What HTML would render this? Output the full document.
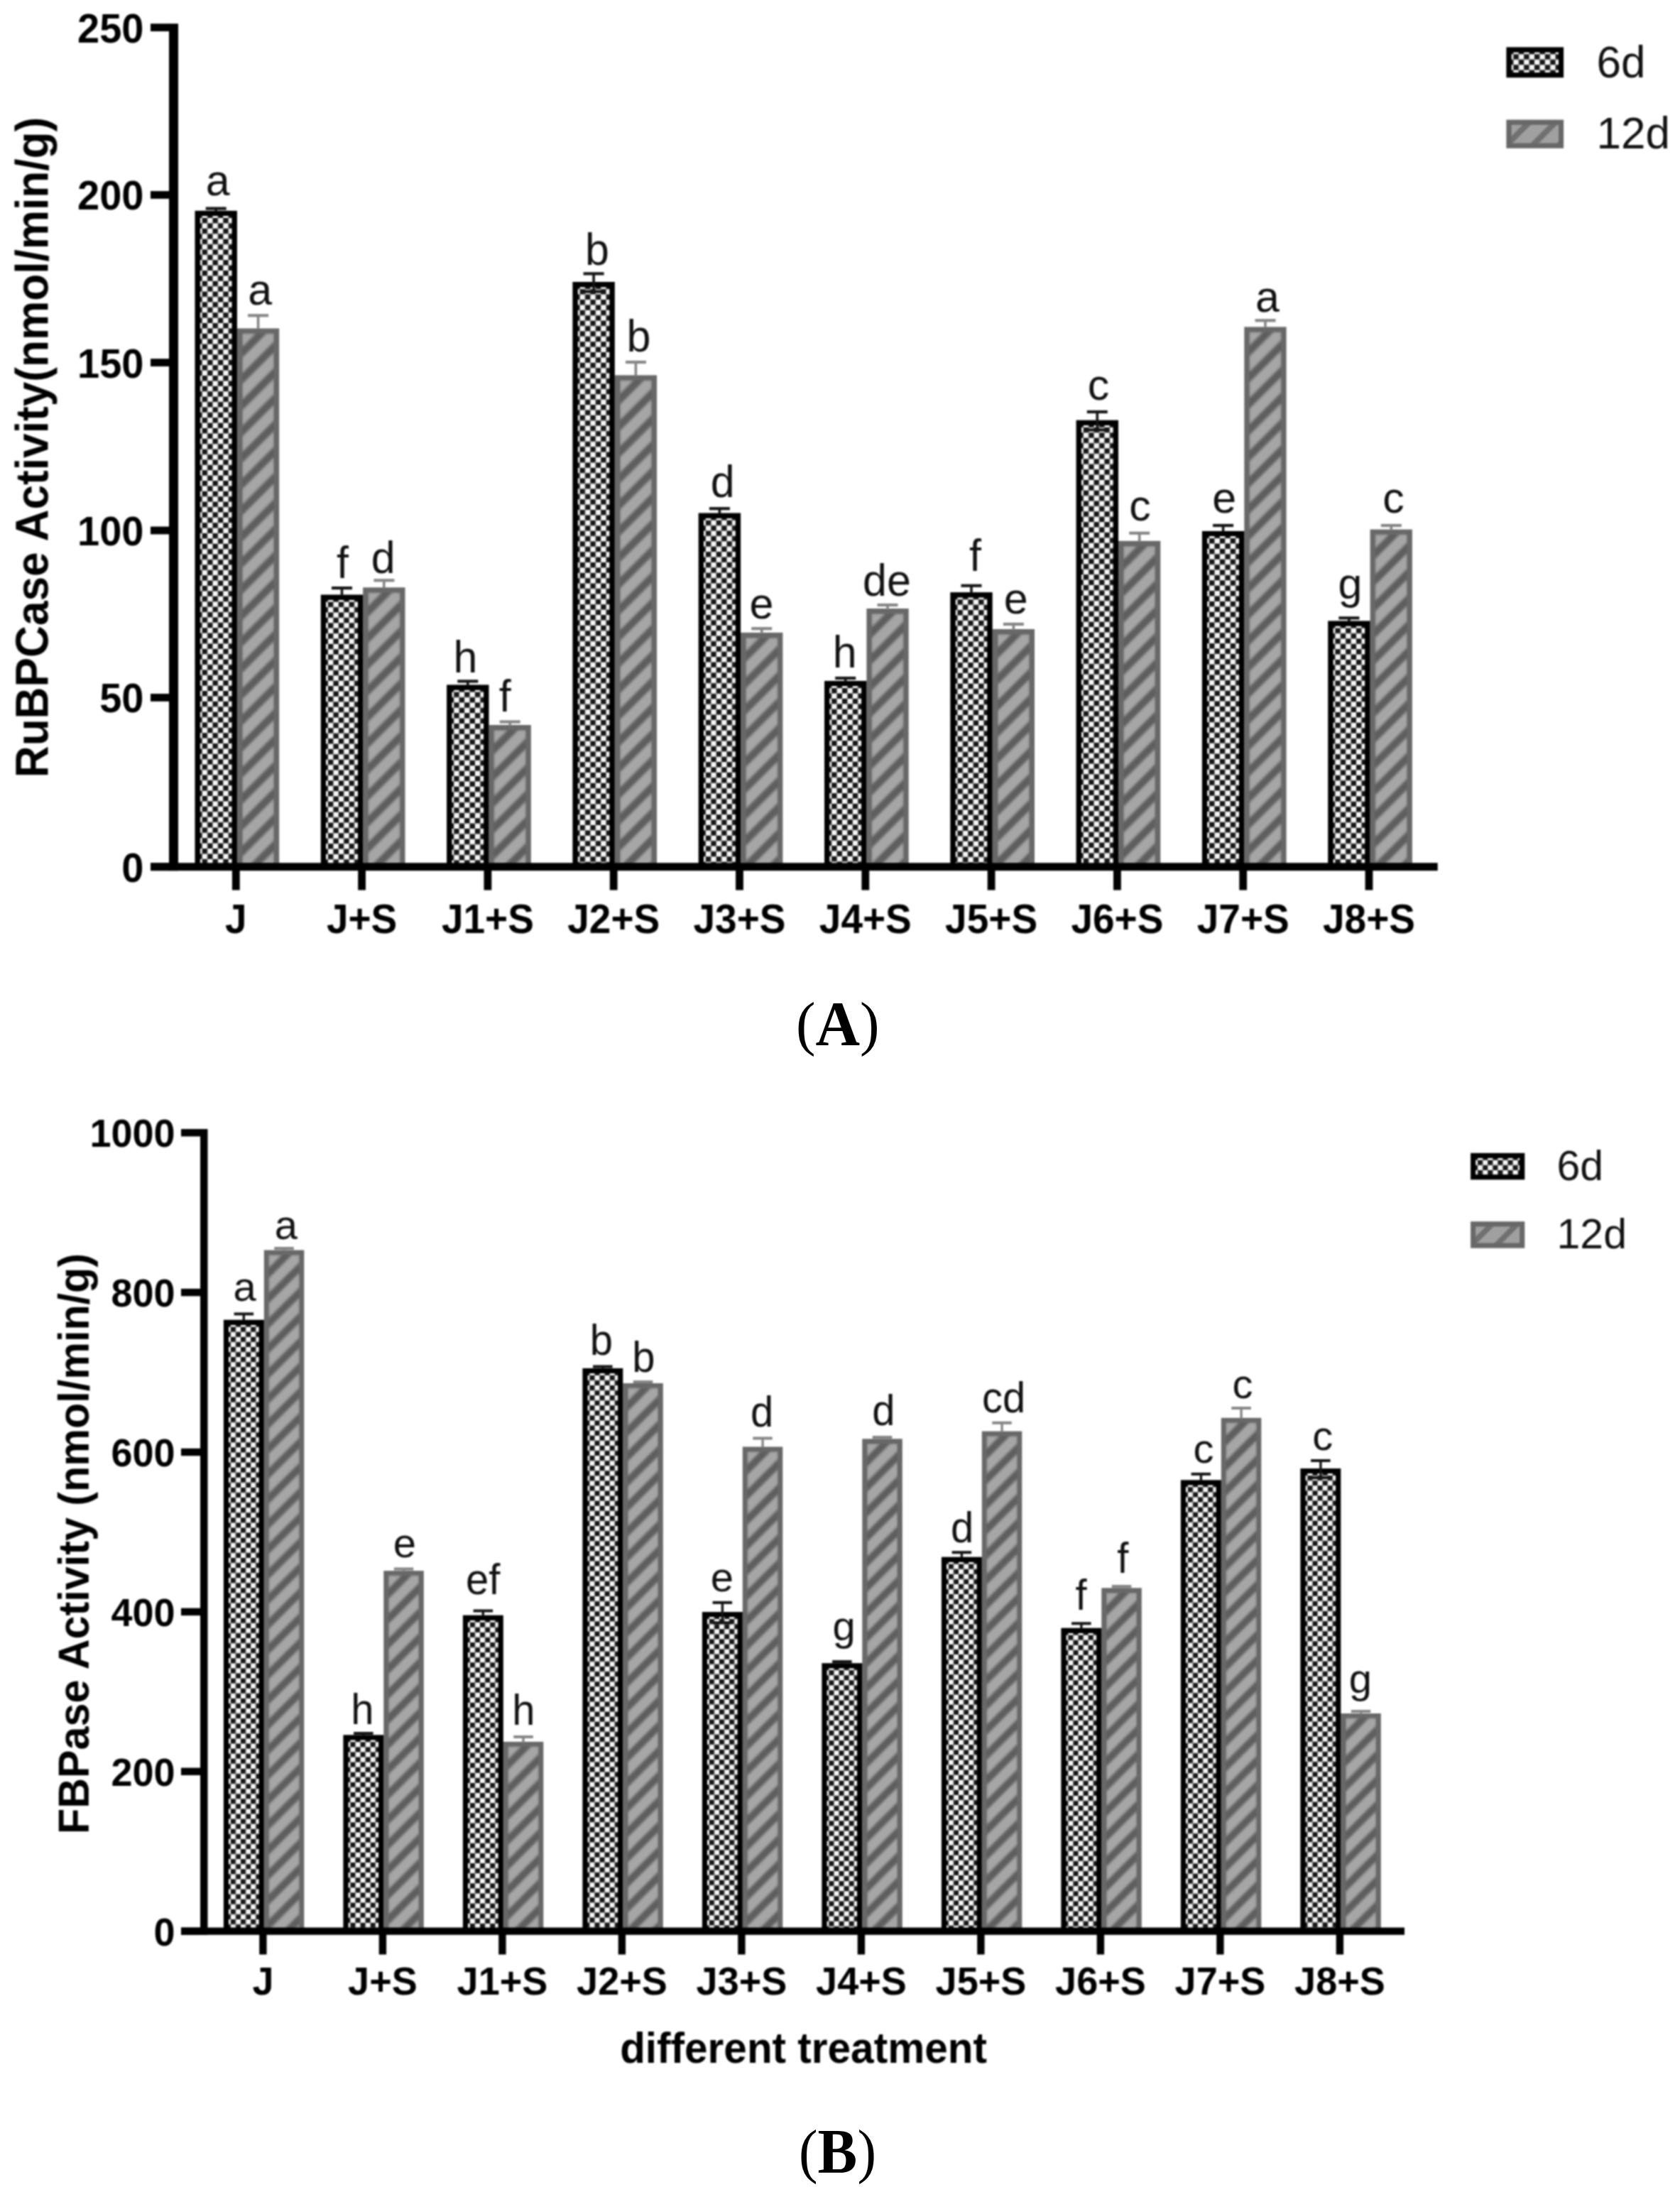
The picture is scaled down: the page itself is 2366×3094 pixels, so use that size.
<!DOCTYPE html>
<html lang="en"><head><meta charset="utf-8"><title>Figure</title>
<style>
html,body{margin:0;padding:0;background:#fff;}
body{width:2366px;height:3094px;overflow:hidden;}
svg{display:block;}
</style></head><body>
<svg width="2366" height="3094" viewBox="0 0 2366 3094">
<defs>
<pattern id="cA" width="14.8" height="14.8" patternUnits="userSpaceOnUse" x="3.0" y="3.0"><rect width="14.8" height="14.8" fill="#f6f6f6"/><rect width="7.4" height="7.4" fill="#161616"/><rect x="7.4" y="7.4" width="7.4" height="7.4" fill="#161616"/></pattern>
<pattern id="cB" width="14.14" height="14.14" patternUnits="userSpaceOnUse" x="3.0" y="3.0"><rect width="14.14" height="14.14" fill="#f6f6f6"/><rect width="7.07" height="7.07" fill="#161616"/><rect x="7.07" y="7.07" width="7.07" height="7.07" fill="#161616"/></pattern>
<pattern id="hA" width="36.97" height="36.97" patternUnits="userSpaceOnUse"><rect width="36.97" height="36.97" fill="#a6a6a6"/><polygon points="0,-17.97 36.97,-54.94 36.97,-39.94 0,-2.97" fill="#5e5e5e"/><polygon points="0,19.00 36.97,-17.97 36.97,-2.97 0,34.00" fill="#5e5e5e"/><polygon points="0,55.97 36.97,19.00 36.97,34.00 0,70.97" fill="#5e5e5e"/><polygon points="0,92.94 36.97,55.97 36.97,70.97 0,107.94" fill="#5e5e5e"/></pattern>
<pattern id="hB" width="35.3" height="35.3" patternUnits="userSpaceOnUse"><rect width="35.3" height="35.3" fill="#a6a6a6"/><polygon points="0,-17.25 35.3,-52.55 35.3,-38.05 0,-2.75" fill="#5e5e5e"/><polygon points="0,18.05 35.3,-17.25 35.3,-2.75 0,32.55" fill="#5e5e5e"/><polygon points="0,53.35 35.3,18.05 35.3,32.55 0,67.85" fill="#5e5e5e"/><polygon points="0,88.65 35.3,53.35 35.3,67.85 0,103.15" fill="#5e5e5e"/></pattern>
<pattern id="hAL" width="36.97" height="36.97" patternUnits="userSpaceOnUse"><rect width="36.97" height="36.97" fill="#a0a0a0"/><polygon points="0,-20.72 36.97,-57.69 36.97,-46.19 0,-9.22" fill="#707070"/><polygon points="0,16.25 36.97,-20.72 36.97,-9.22 0,27.75" fill="#707070"/><polygon points="0,53.22 36.97,16.25 36.97,27.75 0,64.72" fill="#707070"/><polygon points="0,90.19 36.97,53.22 36.97,64.72 0,101.69" fill="#707070"/></pattern>
<pattern id="hBL" width="35.3" height="35.3" patternUnits="userSpaceOnUse"><rect width="35.3" height="35.3" fill="#a0a0a0"/><polygon points="0,-20.90 35.3,-56.20 35.3,-45.00 0,-9.70" fill="#707070"/><polygon points="0,14.40 35.3,-20.90 35.3,-9.70 0,25.60" fill="#707070"/><polygon points="0,49.70 35.3,14.40 35.3,25.60 0,60.90" fill="#707070"/><polygon points="0,85.00 35.3,49.70 35.3,60.90 0,96.20" fill="#707070"/></pattern>
<filter id="softS" x="-2%" y="-2%" width="104%" height="104%" filterUnits="objectBoundingBox" color-interpolation-filters="sRGB"><feGaussianBlur stdDeviation="0.9"/></filter>
<filter id="softH" x="0" y="0" width="100%" height="100%" filterUnits="objectBoundingBox" color-interpolation-filters="sRGB"><feGaussianBlur stdDeviation="1.6"/></filter>
<filter id="softT" x="-2%" y="-2%" width="104%" height="104%" filterUnits="objectBoundingBox" color-interpolation-filters="sRGB"><feGaussianBlur stdDeviation="1.0"/></filter>
</defs>
<rect width="2366" height="3094" fill="#fff"/>
<g id="chartA" filter="url(#softS)">
<rect x="333.9" y="462.5" width="59.3" height="754.7" fill="#686868" />
<svg x="341.2" y="469.8" width="44.7" height="747.4" filter="url(#softH)"><rect width="100%" height="100%" fill="url(#hA)"/></svg>
<rect x="274.5" y="296.8" width="59.4" height="920.4" fill="#000" />
<svg x="281.7" y="304.0" width="45.0" height="913.2"><rect width="100%" height="100%" fill="url(#cA)"/></svg>
<rect x="289.7" y="291.5" width="29.0" height="4.2" fill="#141414" />
<rect x="302.4" y="293.6" width="3.6" height="4.2" fill="#141414" />
<rect x="349.1" y="442.2" width="29.0" height="4.2" fill="#858585" />
<rect x="361.8" y="444.3" width="3.6" height="19.2" fill="#858585" />
<rect x="511.2" y="827.3" width="59.3" height="389.9" fill="#686868" />
<svg x="518.5" y="834.6" width="44.7" height="382.6" filter="url(#softH)"><rect width="100%" height="100%" fill="url(#hA)"/></svg>
<rect x="451.8" y="837.5" width="59.4" height="379.7" fill="#000" />
<svg x="459.0" y="844.7" width="45.0" height="372.5"><rect width="100%" height="100%" fill="url(#cA)"/></svg>
<rect x="467.0" y="826.0" width="29.0" height="4.2" fill="#141414" />
<rect x="479.7" y="828.1" width="3.6" height="10.4" fill="#141414" />
<rect x="526.4" y="815.2" width="29.0" height="4.2" fill="#858585" />
<rect x="539.0" y="817.3" width="3.6" height="11.0" fill="#858585" />
<rect x="688.5" y="1021.0" width="59.3" height="196.2" fill="#686868" />
<svg x="695.8" y="1028.3" width="44.7" height="188.9" filter="url(#softH)"><rect width="100%" height="100%" fill="url(#hA)"/></svg>
<rect x="629.1" y="964.4" width="59.4" height="252.8" fill="#000" />
<svg x="636.3" y="971.6" width="45.0" height="245.6"><rect width="100%" height="100%" fill="url(#cA)"/></svg>
<rect x="644.3" y="957.3" width="29.0" height="4.2" fill="#141414" />
<rect x="657.0" y="959.4" width="3.6" height="6.0" fill="#141414" />
<rect x="703.7" y="1014.4" width="29.0" height="4.2" fill="#858585" />
<rect x="716.4" y="1016.5" width="3.6" height="5.5" fill="#858585" />
<rect x="865.8" y="528.4" width="59.3" height="688.8" fill="#686868" />
<svg x="873.1" y="535.7" width="44.7" height="681.5" filter="url(#softH)"><rect width="100%" height="100%" fill="url(#hA)"/></svg>
<rect x="806.4" y="397.0" width="59.4" height="820.2" fill="#000" />
<svg x="813.6" y="404.2" width="45.0" height="813.0"><rect width="100%" height="100%" fill="url(#cA)"/></svg>
<rect x="821.6" y="383.3" width="29.0" height="4.2" fill="#141414" />
<rect x="834.3" y="385.4" width="3.6" height="12.6" fill="#141414" />
<rect x="821.6" y="408.5" width="29.0" height="4.2" fill="#141414" />
<rect x="834.3" y="397.0" width="3.6" height="13.6" fill="#141414" />
<rect x="881.0" y="507.9" width="29.0" height="4.2" fill="#858585" />
<rect x="893.6" y="510.0" width="3.6" height="19.4" fill="#858585" />
<rect x="1043.1" y="890.9" width="59.3" height="326.3" fill="#686868" />
<svg x="1050.4" y="898.2" width="44.7" height="319.0" filter="url(#softH)"><rect width="100%" height="100%" fill="url(#hA)"/></svg>
<rect x="983.7" y="722.5" width="59.4" height="494.7" fill="#000" />
<svg x="990.9" y="729.7" width="45.0" height="487.5"><rect width="100%" height="100%" fill="url(#cA)"/></svg>
<rect x="998.9" y="714.1" width="29.0" height="4.2" fill="#141414" />
<rect x="1011.6" y="716.2" width="3.6" height="7.2" fill="#141414" />
<rect x="1058.2" y="883.1" width="29.0" height="4.2" fill="#858585" />
<rect x="1071.0" y="885.2" width="3.6" height="6.7" fill="#858585" />
<rect x="1220.4" y="857.0" width="59.3" height="360.2" fill="#686868" />
<svg x="1227.7" y="864.3" width="44.7" height="352.9" filter="url(#softH)"><rect width="100%" height="100%" fill="url(#hA)"/></svg>
<rect x="1161.0" y="958.9" width="59.4" height="258.3" fill="#000" />
<svg x="1168.2" y="966.1" width="45.0" height="251.1"><rect width="100%" height="100%" fill="url(#cA)"/></svg>
<rect x="1176.2" y="952.9" width="29.0" height="4.2" fill="#141414" />
<rect x="1188.9" y="955.0" width="3.6" height="4.9" fill="#141414" />
<rect x="1235.5" y="849.9" width="29.0" height="4.2" fill="#858585" />
<rect x="1248.2" y="852.0" width="3.6" height="6.0" fill="#858585" />
<rect x="1397.7" y="886.0" width="59.3" height="331.2" fill="#686868" />
<svg x="1405.0" y="893.3" width="44.7" height="323.9" filter="url(#softH)"><rect width="100%" height="100%" fill="url(#hA)"/></svg>
<rect x="1338.3" y="834.1" width="59.4" height="383.1" fill="#000" />
<svg x="1345.5" y="841.3" width="45.0" height="375.9"><rect width="100%" height="100%" fill="url(#cA)"/></svg>
<rect x="1353.5" y="822.7" width="29.0" height="4.2" fill="#141414" />
<rect x="1366.2" y="824.8" width="3.6" height="10.3" fill="#141414" />
<rect x="1412.9" y="876.9" width="29.0" height="4.2" fill="#858585" />
<rect x="1425.6" y="879.0" width="3.6" height="8.0" fill="#858585" />
<rect x="1575.0" y="761.8" width="59.3" height="455.4" fill="#686868" />
<svg x="1582.3" y="769.1" width="44.7" height="448.1" filter="url(#softH)"><rect width="100%" height="100%" fill="url(#hA)"/></svg>
<rect x="1515.6" y="591.7" width="59.4" height="625.5" fill="#000" />
<svg x="1522.8" y="598.9" width="45.0" height="618.3"><rect width="100%" height="100%" fill="url(#cA)"/></svg>
<rect x="1530.8" y="577.9" width="29.0" height="4.2" fill="#141414" />
<rect x="1543.5" y="580.0" width="3.6" height="12.7" fill="#141414" />
<rect x="1530.8" y="603.3" width="29.0" height="4.2" fill="#141414" />
<rect x="1543.5" y="591.7" width="3.6" height="13.7" fill="#141414" />
<rect x="1590.2" y="748.7" width="29.0" height="4.2" fill="#858585" />
<rect x="1602.9" y="750.8" width="3.6" height="12.0" fill="#858585" />
<rect x="1752.3" y="460.4" width="59.3" height="756.8" fill="#686868" />
<svg x="1759.6" y="467.7" width="44.7" height="749.5" filter="url(#softH)"><rect width="100%" height="100%" fill="url(#hA)"/></svg>
<rect x="1692.9" y="747.9" width="59.4" height="469.3" fill="#000" />
<svg x="1700.1" y="755.1" width="45.0" height="462.1"><rect width="100%" height="100%" fill="url(#cA)"/></svg>
<rect x="1708.1" y="737.9" width="29.0" height="4.2" fill="#141414" />
<rect x="1720.8" y="740.0" width="3.6" height="8.9" fill="#141414" />
<rect x="1767.5" y="449.2" width="29.0" height="4.2" fill="#858585" />
<rect x="1780.2" y="451.3" width="3.6" height="10.1" fill="#858585" />
<rect x="1929.6" y="745.6" width="59.3" height="471.6" fill="#686868" />
<svg x="1936.9" y="752.9" width="44.7" height="464.3" filter="url(#softH)"><rect width="100%" height="100%" fill="url(#hA)"/></svg>
<rect x="1870.2" y="874.4" width="59.4" height="342.8" fill="#000" />
<svg x="1877.4" y="881.6" width="45.0" height="335.6"><rect width="100%" height="100%" fill="url(#cA)"/></svg>
<rect x="1885.4" y="868.2" width="29.0" height="4.2" fill="#141414" />
<rect x="1898.1" y="870.3" width="3.6" height="5.1" fill="#141414" />
<rect x="1944.8" y="737.9" width="29.0" height="4.2" fill="#858585" />
<rect x="1957.5" y="740.0" width="3.6" height="6.6" fill="#858585" />
<rect x="238.0" y="33.3" width="13.0" height="1192.9" fill="#000" />
<rect x="212.0" y="1215.2" width="1812.7" height="11.0" fill="#000" />
<rect x="212.0" y="33.3" width="27.0" height="10.8" fill="#000" />
<rect x="212.0" y="269.1" width="27.0" height="10.8" fill="#000" />
<rect x="212.0" y="505.2" width="27.0" height="10.8" fill="#000" />
<rect x="212.0" y="741.6" width="27.0" height="10.8" fill="#000" />
<rect x="212.0" y="977.0" width="27.0" height="10.8" fill="#000" />
<rect x="212.0" y="1215.3" width="27.0" height="10.8" fill="#000" />
<rect x="326.9" y="1225.2" width="10.8" height="28.3" fill="#000" />
<rect x="504.2" y="1225.2" width="10.8" height="28.3" fill="#000" />
<rect x="681.5" y="1225.2" width="10.8" height="28.3" fill="#000" />
<rect x="858.8" y="1225.2" width="10.8" height="28.3" fill="#000" />
<rect x="1036.1" y="1225.2" width="10.8" height="28.3" fill="#000" />
<rect x="1213.4" y="1225.2" width="10.8" height="28.3" fill="#000" />
<rect x="1390.7" y="1225.2" width="10.8" height="28.3" fill="#000" />
<rect x="1568.0" y="1225.2" width="10.8" height="28.3" fill="#000" />
<rect x="1745.3" y="1225.2" width="10.8" height="28.3" fill="#000" />
<rect x="1922.6" y="1225.2" width="10.8" height="28.3" fill="#000" />
<rect x="2121.4" y="66.4" width="80.7" height="42.9" fill="#000" />
<svg x="2128.4" y="73.4" width="66.7" height="28.9"><rect width="100%" height="100%" fill="url(#cA)"/></svg>
<rect x="2121.4" y="168.6" width="80.7" height="40.2" fill="#686868" />
<svg x="2128.4" y="175.6" width="66.7" height="26.2"><rect width="100%" height="100%" fill="url(#hAL)"/></svg>
</g>
<g filter="url(#softT)">
<text x="306.8" y="274.5" font-family="'Liberation Sans', Arial, Helvetica, sans-serif" font-size="61" font-weight="normal" text-anchor="middle" fill="#111">a</text>
<text x="366.2" y="429.0" font-family="'Liberation Sans', Arial, Helvetica, sans-serif" font-size="61" font-weight="normal" text-anchor="middle" fill="#111">a</text>
<text transform="translate(482.4,814.4) scale(1,1.04)" font-family="'Liberation Sans', Arial, Helvetica, sans-serif" font-size="61" font-weight="normal" text-anchor="middle" fill="#111">f</text>
<text transform="translate(539.6,806.5) scale(1,1.04)" font-family="'Liberation Sans', Arial, Helvetica, sans-serif" font-size="61" font-weight="normal" text-anchor="middle" fill="#111">d</text>
<text transform="translate(655.5,946.5) scale(1,1.04)" font-family="'Liberation Sans', Arial, Helvetica, sans-serif" font-size="61" font-weight="normal" text-anchor="middle" fill="#111">h</text>
<text transform="translate(711.1,1001.5) scale(1,1.04)" font-family="'Liberation Sans', Arial, Helvetica, sans-serif" font-size="61" font-weight="normal" text-anchor="middle" fill="#111">f</text>
<text transform="translate(841.0,373.0) scale(1,1.04)" font-family="'Liberation Sans', Arial, Helvetica, sans-serif" font-size="61" font-weight="normal" text-anchor="middle" fill="#111">b</text>
<text transform="translate(899.4,495.0) scale(1,1.04)" font-family="'Liberation Sans', Arial, Helvetica, sans-serif" font-size="61" font-weight="normal" text-anchor="middle" fill="#111">b</text>
<text transform="translate(1017.6,700.0) scale(1,1.04)" font-family="'Liberation Sans', Arial, Helvetica, sans-serif" font-size="61" font-weight="normal" text-anchor="middle" fill="#111">d</text>
<text x="1072.5" y="870.7" font-family="'Liberation Sans', Arial, Helvetica, sans-serif" font-size="61" font-weight="normal" text-anchor="middle" fill="#111">e</text>
<text transform="translate(1189.7,939.5) scale(1,1.04)" font-family="'Liberation Sans', Arial, Helvetica, sans-serif" font-size="61" font-weight="normal" text-anchor="middle" fill="#111">h</text>
<text transform="translate(1249.0,838.6) scale(1,1.04)" font-family="'Liberation Sans', Arial, Helvetica, sans-serif" font-size="61" font-weight="normal" text-anchor="middle" fill="#111">de</text>
<text transform="translate(1373.4,804.0) scale(1,1.04)" font-family="'Liberation Sans', Arial, Helvetica, sans-serif" font-size="61" font-weight="normal" text-anchor="middle" fill="#111">f</text>
<text x="1430.7" y="864.4" font-family="'Liberation Sans', Arial, Helvetica, sans-serif" font-size="61" font-weight="normal" text-anchor="middle" fill="#111">e</text>
<text x="1547.1" y="563.4" font-family="'Liberation Sans', Arial, Helvetica, sans-serif" font-size="61" font-weight="normal" text-anchor="middle" fill="#111">c</text>
<text x="1605.4" y="733.2" font-family="'Liberation Sans', Arial, Helvetica, sans-serif" font-size="61" font-weight="normal" text-anchor="middle" fill="#111">c</text>
<text x="1724.2" y="722.0" font-family="'Liberation Sans', Arial, Helvetica, sans-serif" font-size="61" font-weight="normal" text-anchor="middle" fill="#111">e</text>
<text x="1785.0" y="439.2" font-family="'Liberation Sans', Arial, Helvetica, sans-serif" font-size="61" font-weight="normal" text-anchor="middle" fill="#111">a</text>
<text x="1901.5" y="842.5" font-family="'Liberation Sans', Arial, Helvetica, sans-serif" font-size="61" font-weight="normal" text-anchor="middle" fill="#111">g</text>
<text x="1962.4" y="722.0" font-family="'Liberation Sans', Arial, Helvetica, sans-serif" font-size="61" font-weight="normal" text-anchor="middle" fill="#111">c</text>
<text transform="translate(202.5,59.7) scale(1,1.04)" font-family="'Liberation Sans', Arial, Helvetica, sans-serif" font-size="56" font-weight="bold" text-anchor="end" >250</text>
<text transform="translate(202.5,295.5) scale(1,1.04)" font-family="'Liberation Sans', Arial, Helvetica, sans-serif" font-size="56" font-weight="bold" text-anchor="end" >200</text>
<text transform="translate(202.5,531.6) scale(1,1.04)" font-family="'Liberation Sans', Arial, Helvetica, sans-serif" font-size="56" font-weight="bold" text-anchor="end" >150</text>
<text transform="translate(202.5,768.0) scale(1,1.04)" font-family="'Liberation Sans', Arial, Helvetica, sans-serif" font-size="56" font-weight="bold" text-anchor="end" >100</text>
<text transform="translate(202.5,1003.4) scale(1,1.04)" font-family="'Liberation Sans', Arial, Helvetica, sans-serif" font-size="56" font-weight="bold" text-anchor="end" >50</text>
<text transform="translate(202.5,1241.7) scale(1,1.04)" font-family="'Liberation Sans', Arial, Helvetica, sans-serif" font-size="56" font-weight="bold" text-anchor="end" >0</text>
<text transform="translate(332.3,1314.0) scale(1,1.04)" font-family="'Liberation Sans', Arial, Helvetica, sans-serif" font-size="55" font-weight="bold" text-anchor="middle" >J</text>
<text transform="translate(509.6,1314.0) scale(1,1.04)" font-family="'Liberation Sans', Arial, Helvetica, sans-serif" font-size="55" font-weight="bold" text-anchor="middle" >J+S</text>
<text transform="translate(686.9,1314.0) scale(1,1.04)" font-family="'Liberation Sans', Arial, Helvetica, sans-serif" font-size="55" font-weight="bold" text-anchor="middle" >J1+S</text>
<text transform="translate(864.2,1314.0) scale(1,1.04)" font-family="'Liberation Sans', Arial, Helvetica, sans-serif" font-size="55" font-weight="bold" text-anchor="middle" >J2+S</text>
<text transform="translate(1041.5,1314.0) scale(1,1.04)" font-family="'Liberation Sans', Arial, Helvetica, sans-serif" font-size="55" font-weight="bold" text-anchor="middle" >J3+S</text>
<text transform="translate(1218.8,1314.0) scale(1,1.04)" font-family="'Liberation Sans', Arial, Helvetica, sans-serif" font-size="55" font-weight="bold" text-anchor="middle" >J4+S</text>
<text transform="translate(1396.1,1314.0) scale(1,1.04)" font-family="'Liberation Sans', Arial, Helvetica, sans-serif" font-size="55" font-weight="bold" text-anchor="middle" >J5+S</text>
<text transform="translate(1573.4,1314.0) scale(1,1.04)" font-family="'Liberation Sans', Arial, Helvetica, sans-serif" font-size="55" font-weight="bold" text-anchor="middle" >J6+S</text>
<text transform="translate(1750.7,1314.0) scale(1,1.04)" font-family="'Liberation Sans', Arial, Helvetica, sans-serif" font-size="55" font-weight="bold" text-anchor="middle" >J7+S</text>
<text transform="translate(1928.0,1314.0) scale(1,1.04)" font-family="'Liberation Sans', Arial, Helvetica, sans-serif" font-size="55" font-weight="bold" text-anchor="middle" >J8+S</text>
<text transform="translate(67.7,630.0) rotate(-90) scale(1,1.04)" font-family="'Liberation Sans', Arial, Helvetica, sans-serif" font-size="62.2" font-weight="bold" text-anchor="middle">RuBPCase Activity(nmol/min/g)</text>
<text transform="translate(2248.5,108.5) scale(1,1.03)" font-family="'Liberation Sans', Arial, Helvetica, sans-serif" font-size="62" font-weight="normal" text-anchor="start" fill="#111">6d</text>
<text transform="translate(2248.5,208.5) scale(1,1.03)" font-family="'Liberation Sans', Arial, Helvetica, sans-serif" font-size="62" font-weight="normal" text-anchor="start" fill="#111">12d</text>
</g>
<g id="chartB" filter="url(#softS)">
<rect x="371.8" y="1760.5" width="56.5" height="956.0" fill="#686868" />
<svg x="378.6" y="1767.3" width="42.9" height="949.2" filter="url(#softH)"><rect width="100%" height="100%" fill="url(#hB)"/></svg>
<rect x="314.9" y="1858.7" width="56.9" height="857.8" fill="#000" />
<svg x="321.9" y="1865.7" width="42.9" height="850.8"><rect width="100%" height="100%" fill="url(#cB)"/></svg>
<rect x="329.6" y="1848.4" width="27.5" height="4.0" fill="#141414" />
<rect x="341.6" y="1850.4" width="3.4" height="9.3" fill="#141414" />
<rect x="386.3" y="1756.0" width="27.5" height="4.0" fill="#858585" />
<rect x="398.3" y="1758.0" width="3.4" height="3.5" fill="#858585" />
<rect x="540.3" y="2212.1" width="56.5" height="504.4" fill="#686868" />
<svg x="547.1" y="2218.9" width="42.9" height="497.6" filter="url(#softH)"><rect width="100%" height="100%" fill="url(#hB)"/></svg>
<rect x="483.4" y="2443.3" width="56.9" height="273.2" fill="#000" />
<svg x="490.4" y="2450.3" width="42.9" height="266.2"><rect width="100%" height="100%" fill="url(#cB)"/></svg>
<rect x="498.1" y="2439.0" width="27.5" height="4.0" fill="#141414" />
<rect x="510.1" y="2441.0" width="3.4" height="3.3" fill="#141414" />
<rect x="554.8" y="2207.5" width="27.5" height="4.0" fill="#858585" />
<rect x="566.8" y="2209.5" width="3.4" height="3.6" fill="#858585" />
<rect x="708.8" y="2452.9" width="56.5" height="263.6" fill="#686868" />
<svg x="715.6" y="2459.7" width="42.9" height="256.8" filter="url(#softH)"><rect width="100%" height="100%" fill="url(#hB)"/></svg>
<rect x="651.9" y="2274.7" width="56.9" height="441.8" fill="#000" />
<svg x="658.9" y="2281.7" width="42.9" height="434.8"><rect width="100%" height="100%" fill="url(#cB)"/></svg>
<rect x="666.6" y="2266.5" width="27.5" height="4.0" fill="#141414" />
<rect x="678.6" y="2268.5" width="3.4" height="7.2" fill="#141414" />
<rect x="723.3" y="2444.0" width="27.5" height="4.0" fill="#858585" />
<rect x="735.3" y="2446.0" width="3.4" height="7.9" fill="#858585" />
<rect x="877.3" y="1948.0" width="56.5" height="768.5" fill="#686868" />
<svg x="884.1" y="1954.8" width="42.9" height="761.7" filter="url(#softH)"><rect width="100%" height="100%" fill="url(#hB)"/></svg>
<rect x="820.4" y="1926.9" width="56.9" height="789.6" fill="#000" />
<svg x="827.4" y="1933.9" width="42.9" height="782.6"><rect width="100%" height="100%" fill="url(#cB)"/></svg>
<rect x="835.1" y="1922.5" width="27.5" height="4.0" fill="#141414" />
<rect x="847.1" y="1924.5" width="3.4" height="3.4" fill="#141414" />
<rect x="891.8" y="1944.0" width="27.5" height="4.0" fill="#858585" />
<rect x="1045.8" y="2037.5" width="56.5" height="679.0" fill="#686868" />
<svg x="1052.6" y="2044.3" width="42.9" height="672.2" filter="url(#softH)"><rect width="100%" height="100%" fill="url(#hB)"/></svg>
<rect x="988.9" y="2270.1" width="56.9" height="446.4" fill="#000" />
<svg x="995.9" y="2277.1" width="42.9" height="439.4"><rect width="100%" height="100%" fill="url(#cB)"/></svg>
<rect x="1003.6" y="2254.9" width="27.5" height="4.0" fill="#141414" />
<rect x="1015.7" y="2256.9" width="3.4" height="14.2" fill="#141414" />
<rect x="1003.6" y="2283.3" width="27.5" height="4.0" fill="#141414" />
<rect x="1015.7" y="2270.1" width="3.4" height="15.2" fill="#141414" />
<rect x="1060.3" y="2023.5" width="27.5" height="4.0" fill="#858585" />
<rect x="1072.4" y="2025.5" width="3.4" height="13.0" fill="#858585" />
<rect x="1214.3" y="2026.3" width="56.5" height="690.2" fill="#686868" />
<svg x="1221.1" y="2033.1" width="42.9" height="683.4" filter="url(#softH)"><rect width="100%" height="100%" fill="url(#hB)"/></svg>
<rect x="1157.4" y="2342.2" width="56.9" height="374.3" fill="#000" />
<svg x="1164.4" y="2349.2" width="42.9" height="367.3"><rect width="100%" height="100%" fill="url(#cB)"/></svg>
<rect x="1172.1" y="2338.0" width="27.5" height="4.0" fill="#141414" />
<rect x="1184.2" y="2340.0" width="3.4" height="3.2" fill="#141414" />
<rect x="1228.8" y="2022.0" width="27.5" height="4.0" fill="#858585" />
<rect x="1240.9" y="2024.0" width="3.4" height="3.3" fill="#858585" />
<rect x="1382.8" y="2015.6" width="56.5" height="700.9" fill="#686868" />
<svg x="1389.6" y="2022.4" width="42.9" height="694.1" filter="url(#softH)"><rect width="100%" height="100%" fill="url(#hB)"/></svg>
<rect x="1325.9" y="2192.7" width="56.9" height="523.8" fill="#000" />
<svg x="1332.9" y="2199.7" width="42.9" height="516.8"><rect width="100%" height="100%" fill="url(#cB)"/></svg>
<rect x="1340.6" y="2184.2" width="27.5" height="4.0" fill="#141414" />
<rect x="1352.7" y="2186.2" width="3.4" height="7.5" fill="#141414" />
<rect x="1397.3" y="2001.8" width="27.5" height="4.0" fill="#858585" />
<rect x="1409.4" y="2003.8" width="3.4" height="12.8" fill="#858585" />
<rect x="1551.3" y="2236.3" width="56.5" height="480.2" fill="#686868" />
<svg x="1558.1" y="2243.1" width="42.9" height="473.4" filter="url(#softH)"><rect width="100%" height="100%" fill="url(#hB)"/></svg>
<rect x="1494.4" y="2292.7" width="56.9" height="423.8" fill="#000" />
<svg x="1501.4" y="2299.7" width="42.9" height="416.8"><rect width="100%" height="100%" fill="url(#cB)"/></svg>
<rect x="1509.1" y="2284.3" width="27.5" height="4.0" fill="#141414" />
<rect x="1521.2" y="2286.3" width="3.4" height="7.4" fill="#141414" />
<rect x="1565.8" y="2232.0" width="27.5" height="4.0" fill="#858585" />
<rect x="1577.9" y="2234.0" width="3.4" height="3.3" fill="#858585" />
<rect x="1719.8" y="1996.8" width="56.5" height="719.7" fill="#686868" />
<svg x="1726.6" y="2003.6" width="42.9" height="712.9" filter="url(#softH)"><rect width="100%" height="100%" fill="url(#hB)"/></svg>
<rect x="1662.9" y="2084.3" width="56.9" height="632.2" fill="#000" />
<svg x="1669.9" y="2091.3" width="42.9" height="625.2"><rect width="100%" height="100%" fill="url(#cB)"/></svg>
<rect x="1677.6" y="2073.9" width="27.5" height="4.0" fill="#141414" />
<rect x="1689.7" y="2075.9" width="3.4" height="9.4" fill="#141414" />
<rect x="1734.3" y="1981.0" width="27.5" height="4.0" fill="#858585" />
<rect x="1746.4" y="1983.0" width="3.4" height="14.8" fill="#858585" />
<rect x="1888.3" y="2413.0" width="56.5" height="303.5" fill="#686868" />
<svg x="1895.1" y="2419.8" width="42.9" height="296.7" filter="url(#softH)"><rect width="100%" height="100%" fill="url(#hB)"/></svg>
<rect x="1831.4" y="2068.0" width="56.9" height="648.5" fill="#000" />
<svg x="1838.4" y="2075.0" width="42.9" height="641.5"><rect width="100%" height="100%" fill="url(#cB)"/></svg>
<rect x="1846.1" y="2055.0" width="27.5" height="4.0" fill="#141414" />
<rect x="1858.2" y="2057.0" width="3.4" height="12.0" fill="#141414" />
<rect x="1846.1" y="2079.0" width="27.5" height="4.0" fill="#141414" />
<rect x="1858.2" y="2068.0" width="3.4" height="13.0" fill="#141414" />
<rect x="1902.8" y="2408.0" width="27.5" height="4.0" fill="#858585" />
<rect x="1914.9" y="2410.0" width="3.4" height="4.0" fill="#858585" />
<rect x="282.0" y="1590.0" width="10.5" height="1134.8" fill="#000" />
<rect x="255.0" y="2714.5" width="1723.0" height="10.3" fill="#000" />
<rect x="255.0" y="1590.0" width="28.0" height="10.4" fill="#000" />
<rect x="255.0" y="1814.9" width="28.0" height="10.4" fill="#000" />
<rect x="255.0" y="2039.8" width="28.0" height="10.4" fill="#000" />
<rect x="255.0" y="2264.7" width="28.0" height="10.4" fill="#000" />
<rect x="255.0" y="2489.6" width="28.0" height="10.4" fill="#000" />
<rect x="255.0" y="2714.5" width="28.0" height="10.4" fill="#000" />
<rect x="365.2" y="2723.8" width="10.4" height="28.7" fill="#000" />
<rect x="533.7" y="2723.8" width="10.4" height="28.7" fill="#000" />
<rect x="702.2" y="2723.8" width="10.4" height="28.7" fill="#000" />
<rect x="870.7" y="2723.8" width="10.4" height="28.7" fill="#000" />
<rect x="1039.2" y="2723.8" width="10.4" height="28.7" fill="#000" />
<rect x="1207.7" y="2723.8" width="10.4" height="28.7" fill="#000" />
<rect x="1376.2" y="2723.8" width="10.4" height="28.7" fill="#000" />
<rect x="1544.7" y="2723.8" width="10.4" height="28.7" fill="#000" />
<rect x="1713.2" y="2723.8" width="10.4" height="28.7" fill="#000" />
<rect x="1881.7" y="2723.8" width="10.4" height="28.7" fill="#000" />
<rect x="2071.1" y="1623.8" width="76.2" height="37.5" fill="#000" />
<svg x="2078.1" y="1630.8" width="62.2" height="23.5"><rect width="100%" height="100%" fill="url(#cB)"/></svg>
<rect x="2071.1" y="1720.2" width="76.2" height="37.5" fill="#686868" />
<svg x="2078.1" y="1727.2" width="62.2" height="23.5"><rect width="100%" height="100%" fill="url(#hBL)"/></svg>
</g>
<g filter="url(#softT)">
<text x="344.6" y="1831.7" font-family="'Liberation Sans', Arial, Helvetica, sans-serif" font-size="58" font-weight="normal" text-anchor="middle" fill="#111">a</text>
<text x="402.9" y="1744.8" font-family="'Liberation Sans', Arial, Helvetica, sans-serif" font-size="58" font-weight="normal" text-anchor="middle" fill="#111">a</text>
<text transform="translate(510.3,2428.0) scale(1,1.04)" font-family="'Liberation Sans', Arial, Helvetica, sans-serif" font-size="58" font-weight="normal" text-anchor="middle" fill="#111">h</text>
<text x="570.0" y="2193.0" font-family="'Liberation Sans', Arial, Helvetica, sans-serif" font-size="58" font-weight="normal" text-anchor="middle" fill="#111">e</text>
<text transform="translate(680.2,2245.0) scale(1,1.04)" font-family="'Liberation Sans', Arial, Helvetica, sans-serif" font-size="58" font-weight="normal" text-anchor="middle" fill="#111">ef</text>
<text transform="translate(737.4,2429.0) scale(1,1.04)" font-family="'Liberation Sans', Arial, Helvetica, sans-serif" font-size="58" font-weight="normal" text-anchor="middle" fill="#111">h</text>
<text transform="translate(847.0,1908.0) scale(1,1.04)" font-family="'Liberation Sans', Arial, Helvetica, sans-serif" font-size="58" font-weight="normal" text-anchor="middle" fill="#111">b</text>
<text transform="translate(906.5,1932.0) scale(1,1.04)" font-family="'Liberation Sans', Arial, Helvetica, sans-serif" font-size="58" font-weight="normal" text-anchor="middle" fill="#111">b</text>
<text x="1016.9" y="2241.0" font-family="'Liberation Sans', Arial, Helvetica, sans-serif" font-size="58" font-weight="normal" text-anchor="middle" fill="#111">e</text>
<text transform="translate(1073.1,2009.5) scale(1,1.04)" font-family="'Liberation Sans', Arial, Helvetica, sans-serif" font-size="58" font-weight="normal" text-anchor="middle" fill="#111">d</text>
<text x="1188.6" y="2310.3" font-family="'Liberation Sans', Arial, Helvetica, sans-serif" font-size="58" font-weight="normal" text-anchor="middle" fill="#111">g</text>
<text transform="translate(1244.3,2007.2) scale(1,1.04)" font-family="'Liberation Sans', Arial, Helvetica, sans-serif" font-size="58" font-weight="normal" text-anchor="middle" fill="#111">d</text>
<text transform="translate(1355.2,2172.0) scale(1,1.04)" font-family="'Liberation Sans', Arial, Helvetica, sans-serif" font-size="58" font-weight="normal" text-anchor="middle" fill="#111">d</text>
<text transform="translate(1413.6,1988.6) scale(1,1.04)" font-family="'Liberation Sans', Arial, Helvetica, sans-serif" font-size="58" font-weight="normal" text-anchor="middle" fill="#111">cd</text>
<text transform="translate(1522.5,2267.0) scale(1,1.04)" font-family="'Liberation Sans', Arial, Helvetica, sans-serif" font-size="58" font-weight="normal" text-anchor="middle" fill="#111">f</text>
<text transform="translate(1581.3,2215.0) scale(1,1.04)" font-family="'Liberation Sans', Arial, Helvetica, sans-serif" font-size="58" font-weight="normal" text-anchor="middle" fill="#111">f</text>
<text x="1695.0" y="2059.6" font-family="'Liberation Sans', Arial, Helvetica, sans-serif" font-size="58" font-weight="normal" text-anchor="middle" fill="#111">c</text>
<text x="1750.0" y="1968.5" font-family="'Liberation Sans', Arial, Helvetica, sans-serif" font-size="58" font-weight="normal" text-anchor="middle" fill="#111">c</text>
<text x="1862.7" y="2042.3" font-family="'Liberation Sans', Arial, Helvetica, sans-serif" font-size="58" font-weight="normal" text-anchor="middle" fill="#111">c</text>
<text x="1916.0" y="2383.7" font-family="'Liberation Sans', Arial, Helvetica, sans-serif" font-size="58" font-weight="normal" text-anchor="middle" fill="#111">g</text>
<text transform="translate(246.5,1615.2) scale(1,1.04)" font-family="'Liberation Sans', Arial, Helvetica, sans-serif" font-size="54" font-weight="bold" text-anchor="end" >1000</text>
<text transform="translate(246.5,1840.1) scale(1,1.04)" font-family="'Liberation Sans', Arial, Helvetica, sans-serif" font-size="54" font-weight="bold" text-anchor="end" >800</text>
<text transform="translate(246.5,2065.0) scale(1,1.04)" font-family="'Liberation Sans', Arial, Helvetica, sans-serif" font-size="54" font-weight="bold" text-anchor="end" >600</text>
<text transform="translate(246.5,2289.9) scale(1,1.04)" font-family="'Liberation Sans', Arial, Helvetica, sans-serif" font-size="54" font-weight="bold" text-anchor="end" >400</text>
<text transform="translate(246.5,2514.8) scale(1,1.04)" font-family="'Liberation Sans', Arial, Helvetica, sans-serif" font-size="54" font-weight="bold" text-anchor="end" >200</text>
<text transform="translate(246.5,2739.7) scale(1,1.04)" font-family="'Liberation Sans', Arial, Helvetica, sans-serif" font-size="54" font-weight="bold" text-anchor="end" >0</text>
<text transform="translate(370.4,2809.0) scale(1,1.04)" font-family="'Liberation Sans', Arial, Helvetica, sans-serif" font-size="54" font-weight="bold" text-anchor="middle" >J</text>
<text transform="translate(538.9,2809.0) scale(1,1.04)" font-family="'Liberation Sans', Arial, Helvetica, sans-serif" font-size="54" font-weight="bold" text-anchor="middle" >J+S</text>
<text transform="translate(707.4,2809.0) scale(1,1.04)" font-family="'Liberation Sans', Arial, Helvetica, sans-serif" font-size="54" font-weight="bold" text-anchor="middle" >J1+S</text>
<text transform="translate(875.9,2809.0) scale(1,1.04)" font-family="'Liberation Sans', Arial, Helvetica, sans-serif" font-size="54" font-weight="bold" text-anchor="middle" >J2+S</text>
<text transform="translate(1044.4,2809.0) scale(1,1.04)" font-family="'Liberation Sans', Arial, Helvetica, sans-serif" font-size="54" font-weight="bold" text-anchor="middle" >J3+S</text>
<text transform="translate(1212.9,2809.0) scale(1,1.04)" font-family="'Liberation Sans', Arial, Helvetica, sans-serif" font-size="54" font-weight="bold" text-anchor="middle" >J4+S</text>
<text transform="translate(1381.4,2809.0) scale(1,1.04)" font-family="'Liberation Sans', Arial, Helvetica, sans-serif" font-size="54" font-weight="bold" text-anchor="middle" >J5+S</text>
<text transform="translate(1549.9,2809.0) scale(1,1.04)" font-family="'Liberation Sans', Arial, Helvetica, sans-serif" font-size="54" font-weight="bold" text-anchor="middle" >J6+S</text>
<text transform="translate(1718.4,2809.0) scale(1,1.04)" font-family="'Liberation Sans', Arial, Helvetica, sans-serif" font-size="54" font-weight="bold" text-anchor="middle" >J7+S</text>
<text transform="translate(1886.9,2809.0) scale(1,1.04)" font-family="'Liberation Sans', Arial, Helvetica, sans-serif" font-size="54" font-weight="bold" text-anchor="middle" >J8+S</text>
<text transform="translate(125.0,2174.0) rotate(-90) scale(1,1.04)" font-family="'Liberation Sans', Arial, Helvetica, sans-serif" font-size="59.3" font-weight="bold" text-anchor="middle">FBPase Activity (nmol/min/g)</text>
<text x="2192.5" y="1662.0" font-family="'Liberation Sans', Arial, Helvetica, sans-serif" font-size="59" font-weight="normal" text-anchor="start" fill="#111">6d</text>
<text x="2192.5" y="1758.0" font-family="'Liberation Sans', Arial, Helvetica, sans-serif" font-size="59" font-weight="normal" text-anchor="start" fill="#111">12d</text>
<text transform="translate(1131.5,2904.5) scale(1,1.04)" font-family="'Liberation Sans', Arial, Helvetica, sans-serif" font-size="58.5" font-weight="bold" text-anchor="middle" >different treatment</text>
</g>
<text transform="translate(1179.8,1471.0) scale(0.985,1)" font-family="'Liberation Serif', 'Times New Roman', serif" font-size="88" text-anchor="middle"><tspan font-size="84" dy="-1">(</tspan><tspan font-weight="bold" dy="1">A</tspan><tspan font-size="84" dy="-1">)</tspan></text>
<text transform="translate(1179.5,3058.6) scale(0.95,1)" font-family="'Liberation Serif', 'Times New Roman', serif" font-size="88" text-anchor="middle"><tspan font-size="84" dy="-1">(</tspan><tspan font-weight="bold" dy="1">B</tspan><tspan font-size="84" dy="-1">)</tspan></text>
</svg>
</body></html>
